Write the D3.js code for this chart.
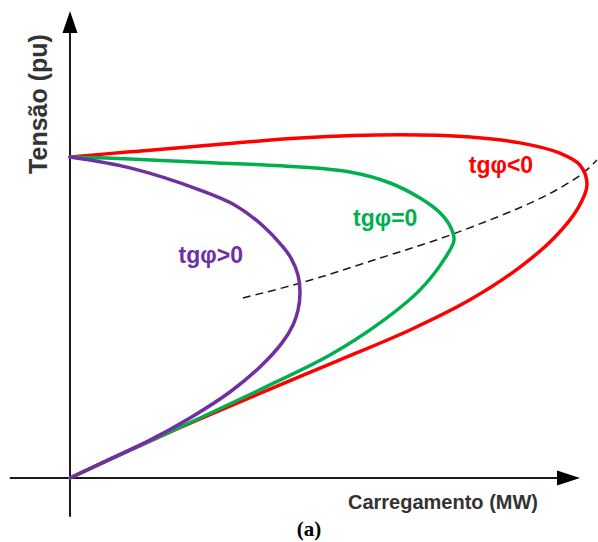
<!DOCTYPE html>
<html>
<head>
<meta charset="utf-8">
<script src="https://cdn.jsdelivr.net/npm/d3@7"></script>
<style>
  html, body { margin: 0; padding: 0; background: #fff; }
  svg { display: block; }
</style>
</head>
<body>
<div id="chart"></div>
<script>
// curvas PV (carregamento em MW arbitrario, tensao em pu)
const seriesNames = ['tgφ<0', 'tgφ=0', 'tgφ>0'];
const seriesColors = ['#ff0000', '#00b050', '#7030a0'];

const loadNeg = [0, 11.76, 25.49, 39.22, 52.94, 66.67, 78.43, 88.24, 95.10, 99.61, 101.37, 100.0, 96.08, 88.24, 78.43, 64.71, 45.10, 25.49, 11.76, 0];
const voltNeg = [0, 0.087, 0.184, 0.277, 0.368, 0.461, 0.555, 0.657, 0.751, 0.841, 0.913, 0.975, 1.012, 1.044, 1.062, 1.069, 1.059, 1.034, 1.016, 1.0];

const loadZero = [0, 11.76, 25.49, 39.22, 50.98, 60.78, 68.63, 73.53, 75.29, 74.71, 72.55, 68.63, 62.75, 54.90, 45.10, 25.49, 11.76, 0];
const voltZero = [0, 0.087, 0.187, 0.290, 0.383, 0.483, 0.586, 0.685, 0.741, 0.779, 0.826, 0.872, 0.919, 0.953, 0.969, 0.984, 0.994, 1.0];

const loadPos = [0, 7.84, 15.69, 23.53, 31.37, 37.25, 41.57, 43.73, 44.71, 45.10, 44.71, 43.33, 41.76, 37.65, 32.35, 25.49, 11.76, 0];
const voltPos = [0, 0.059, 0.118, 0.187, 0.268, 0.346, 0.421, 0.477, 0.523, 0.579, 0.632, 0.685, 0.720, 0.788, 0.850, 0.897, 0.966, 1.0];

// lugar geometrico dos pontos criticos (tracejado)
const loadCrit = [33.9, 45.1, 60.8, 75.1, 92.7, 100.6, 103.3];
const voltCrit = [0.561, 0.607, 0.685, 0.760, 0.875, 0.950, 0.991];

// rotulos das curvas: posicao em unidades de dados
const labelLoad = [84.5, 61.8, 27.6];
const labelVolt = [0.950, 0.785, 0.670];

const width = 598, height = 542;

const svg = d3.select('#chart').append('svg')
    .attr('width', width)
    .attr('height', height);

const x = d3.scaleLinear().domain([0, 100]).range([70, 580]);
const y = d3.scaleLinear().domain([0, 1]).range([478, 157]);

// eixos com setas
const axisColor = '#1a1a1a';
const g = svg.append('g');

g.append('line')
    .attr('x1', x(-11.8)).attr('y1', y(0))
    .attr('x2', x(96)).attr('y2', y(0))
    .style('stroke', axisColor).style('stroke-width', 2);
g.append('path')
    .attr('d', `M${x(100)},${y(0)} L${x(100) - 23},${y(0) - 7.5} L${x(100) - 23},${y(0) + 7.5} Z`)
    .style('fill', '#000');

g.append('line')
    .attr('x1', x(0)).attr('y1', y(-0.121))
    .attr('x2', x(0)).attr('y2', y(1.40))
    .style('stroke', axisColor).style('stroke-width', 2);
g.append('path')
    .attr('d', `M${x(0)},${y(1.455)} L${x(0) - 7.5},${y(1.455) + 22} L${x(0) + 7.5},${y(1.455) + 22} Z`)
    .style('fill', '#000');

// curvas
const line = d3.line()
    .x(d => x(d[0]))
    .y(d => y(d[1]))
    .curve(d3.curveCatmullRom.alpha(0.5));

const curves = [
    d3.zip(loadNeg, voltNeg),
    d3.zip(loadZero, voltZero),
    d3.zip(loadPos, voltPos)
];

g.append('path')
    .datum(d3.zip(loadCrit, voltCrit))
    .attr('d', line)
    .style('fill', 'none')
    .style('stroke', '#1a1a1a')
    .style('stroke-width', 1.5)
    .style('stroke-dasharray', '8,5');

g.selectAll('.curve')
    .data(curves)
    .enter().append('path')
    .attr('class', 'curve')
    .attr('d', line)
    .style('fill', 'none')
    .style('stroke', (d, i) => seriesColors[i])
    .style('stroke-width', 3.5)
    .style('stroke-linejoin', 'round')
    .style('stroke-linecap', 'round');

g.selectAll('.curve-label')
    .data(seriesNames)
    .enter().append('text')
    .attr('class', 'curve-label')
    .attr('x', (d, i) => x(labelLoad[i]))
    .attr('y', (d, i) => y(labelVolt[i]))
    .attr('text-anchor', 'middle')
    .style('font-family', '"Liberation Sans", Arial, sans-serif')
    .style('font-weight', 'bold')
    .style('font-size', '23px')
    .style('fill', (d, i) => seriesColors[i])
    .text(d => d);

// titulos dos eixos
svg.append('text')
    .attr('x', 443)
    .attr('y', 509)
    .attr('text-anchor', 'middle')
    .style('font-family', '"Liberation Sans", Arial, sans-serif')
    .style('font-weight', 'bold')
    .style('font-size', '20px')
    .style('fill', '#333')
    .text('Carregamento (MW)');

svg.append('text')
    .attr('transform', 'translate(47,104) rotate(-90)')
    .attr('text-anchor', 'middle')
    .style('font-family', '"Liberation Sans", Arial, sans-serif')
    .style('font-weight', 'bold')
    .style('font-size', '25px')
    .style('fill', '#333')
    .text('Tensão (pu)');

svg.append('text')
    .attr('x', 309)
    .attr('y', 536)
    .attr('text-anchor', 'middle')
    .style('font-family', '"Liberation Serif", "Times New Roman", serif')
    .style('font-weight', 'bold')
    .style('font-size', '21px')
    .style('fill', '#000')
    .text('(a)');
</script>
</body>
</html>
